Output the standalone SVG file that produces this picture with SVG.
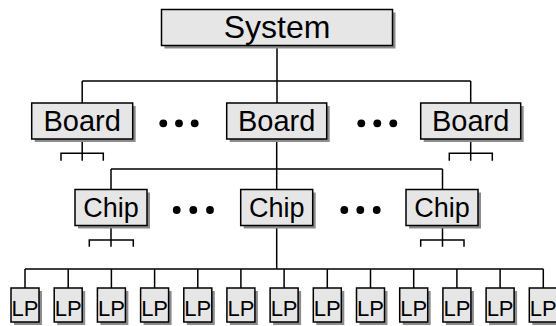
<svg xmlns="http://www.w3.org/2000/svg" width="556" height="326" viewBox="0 0 556 326">
<style>
.box{fill:#e6e6e6;stroke:#000;stroke-width:1.5}
.sh{fill:#8c8c8c}
.t{font-family:"Liberation Sans",Arial,sans-serif;fill:#000;text-anchor:middle}
.c{fill:none;stroke:#000;stroke-width:1.5}
.dot{fill:#000}
</style>
<rect width="556" height="326" fill="#fff"/>
<g id="connectors">
<path class="c" d="M277 45V103M82.2 81H470.7M82.2 81V103M470.7 81V103"/>
<path class="c" d="M82.2 139V160.7M61 160.7V153.3H103.3V160.7"/>
<path class="c" d="M470.7 139V160.7M449.3 160.7V153.3H492.3V160.7"/>
<path class="c" d="M276.7 139V189.5M111 169H442.5M111 169V189.5M442.5 169V189.5"/>
<path class="c" d="M111 225V246.7M89.3 246.7V240H133.3V246.7"/>
<path class="c" d="M442.5 225V246.7M420.7 246.7V240H464V246.7"/>
<path class="c" d="M276.7 225V269M25 269H543.3M25 269V288M68.2 269V288M111.4 269V288M154.6 269V288M197.8 269V288M240.9 269V288M284.1 269V288M327.3 269V288M370.5 269V288M413.7 269V288M456.9 269V288M500.1 269V288M543.3 269V288"/>
</g>
<g id="system"><rect class="sh" x="164.5" y="12.5" width="231" height="36"/><rect class="box" x="161.5" y="9.5" width="231" height="36"/><text class="t" x="277" y="38" font-size="32">System</text></g>
<g id="board1"><rect class="sh" x="34.7" y="106" width="101" height="36"/><rect class="box" x="31.7" y="103" width="101" height="36"/><text class="t" x="82.2" y="131" font-size="29">Board</text></g>
<g id="board2"><rect class="sh" x="229.7" y="106" width="100" height="36"/><rect class="box" x="226.7" y="103" width="100" height="36"/><text class="t" x="276.7" y="131" font-size="29">Board</text></g>
<g id="board3"><rect class="sh" x="423.7" y="106" width="100" height="36"/><rect class="box" x="420.7" y="103" width="100" height="36"/><text class="t" x="470.7" y="131" font-size="29">Board</text></g>
<g id="dots1"><circle class="dot" cx="163.3" cy="123.3" r="3.9"/><circle class="dot" cx="179" cy="123.3" r="3.9"/><circle class="dot" cx="194.7" cy="123.3" r="3.9"/></g>
<g id="dots2"><circle class="dot" cx="361.3" cy="123.3" r="3.9"/><circle class="dot" cx="377.3" cy="123.3" r="3.9"/><circle class="dot" cx="393.3" cy="123.3" r="3.9"/></g>
<g id="chip1"><rect class="sh" x="78" y="192.5" width="72" height="36"/><rect class="box" x="75" y="189.5" width="72" height="36"/><text class="t" x="111" y="217" font-size="27">Chip</text></g>
<g id="chip2"><rect class="sh" x="243.7" y="192.5" width="72" height="36"/><rect class="box" x="240.7" y="189.5" width="72" height="36"/><text class="t" x="276.7" y="217" font-size="27">Chip</text></g>
<g id="chip3"><rect class="sh" x="409" y="192.5" width="72" height="36"/><rect class="box" x="406" y="189.5" width="72" height="36"/><text class="t" x="442" y="217" font-size="27">Chip</text></g>
<g id="dots3"><circle class="dot" cx="176.7" cy="210" r="3.9"/><circle class="dot" cx="193.3" cy="210" r="3.9"/><circle class="dot" cx="210" cy="210" r="3.9"/></g>
<g id="dots4"><circle class="dot" cx="344.3" cy="210" r="3.9"/><circle class="dot" cx="360.3" cy="210" r="3.9"/><circle class="dot" cx="376.7" cy="210" r="3.9"/></g>
<g id="lp1"><rect class="sh" x="14" y="291" width="28" height="34"/><rect class="box" x="11" y="288" width="28" height="34"/><text class="t" x="25" y="315.5" font-size="22">LP</text></g>
<g id="lp2"><rect class="sh" x="57.2" y="291" width="28" height="34"/><rect class="box" x="54.2" y="288" width="28" height="34"/><text class="t" x="68.2" y="315.5" font-size="22">LP</text></g>
<g id="lp3"><rect class="sh" x="100.4" y="291" width="28" height="34"/><rect class="box" x="97.4" y="288" width="28" height="34"/><text class="t" x="111.4" y="315.5" font-size="22">LP</text></g>
<g id="lp4"><rect class="sh" x="143.6" y="291" width="28" height="34"/><rect class="box" x="140.6" y="288" width="28" height="34"/><text class="t" x="154.6" y="315.5" font-size="22">LP</text></g>
<g id="lp5"><rect class="sh" x="186.8" y="291" width="28" height="34"/><rect class="box" x="183.8" y="288" width="28" height="34"/><text class="t" x="197.8" y="315.5" font-size="22">LP</text></g>
<g id="lp6"><rect class="sh" x="229.9" y="291" width="28" height="34"/><rect class="box" x="226.9" y="288" width="28" height="34"/><text class="t" x="240.9" y="315.5" font-size="22">LP</text></g>
<g id="lp7"><rect class="sh" x="273.1" y="291" width="28" height="34"/><rect class="box" x="270.1" y="288" width="28" height="34"/><text class="t" x="284.1" y="315.5" font-size="22">LP</text></g>
<g id="lp8"><rect class="sh" x="316.3" y="291" width="28" height="34"/><rect class="box" x="313.3" y="288" width="28" height="34"/><text class="t" x="327.3" y="315.5" font-size="22">LP</text></g>
<g id="lp9"><rect class="sh" x="359.5" y="291" width="28" height="34"/><rect class="box" x="356.5" y="288" width="28" height="34"/><text class="t" x="370.5" y="315.5" font-size="22">LP</text></g>
<g id="lp10"><rect class="sh" x="402.7" y="291" width="28" height="34"/><rect class="box" x="399.7" y="288" width="28" height="34"/><text class="t" x="413.7" y="315.5" font-size="22">LP</text></g>
<g id="lp11"><rect class="sh" x="445.9" y="291" width="28" height="34"/><rect class="box" x="442.9" y="288" width="28" height="34"/><text class="t" x="456.9" y="315.5" font-size="22">LP</text></g>
<g id="lp12"><rect class="sh" x="489.1" y="291" width="28" height="34"/><rect class="box" x="486.1" y="288" width="28" height="34"/><text class="t" x="500.1" y="315.5" font-size="22">LP</text></g>
<g id="lp13"><rect class="sh" x="532.3" y="291" width="28" height="34"/><rect class="box" x="529.3" y="288" width="28" height="34"/><text class="t" x="543.3" y="315.5" font-size="22">LP</text></g>
</svg>
